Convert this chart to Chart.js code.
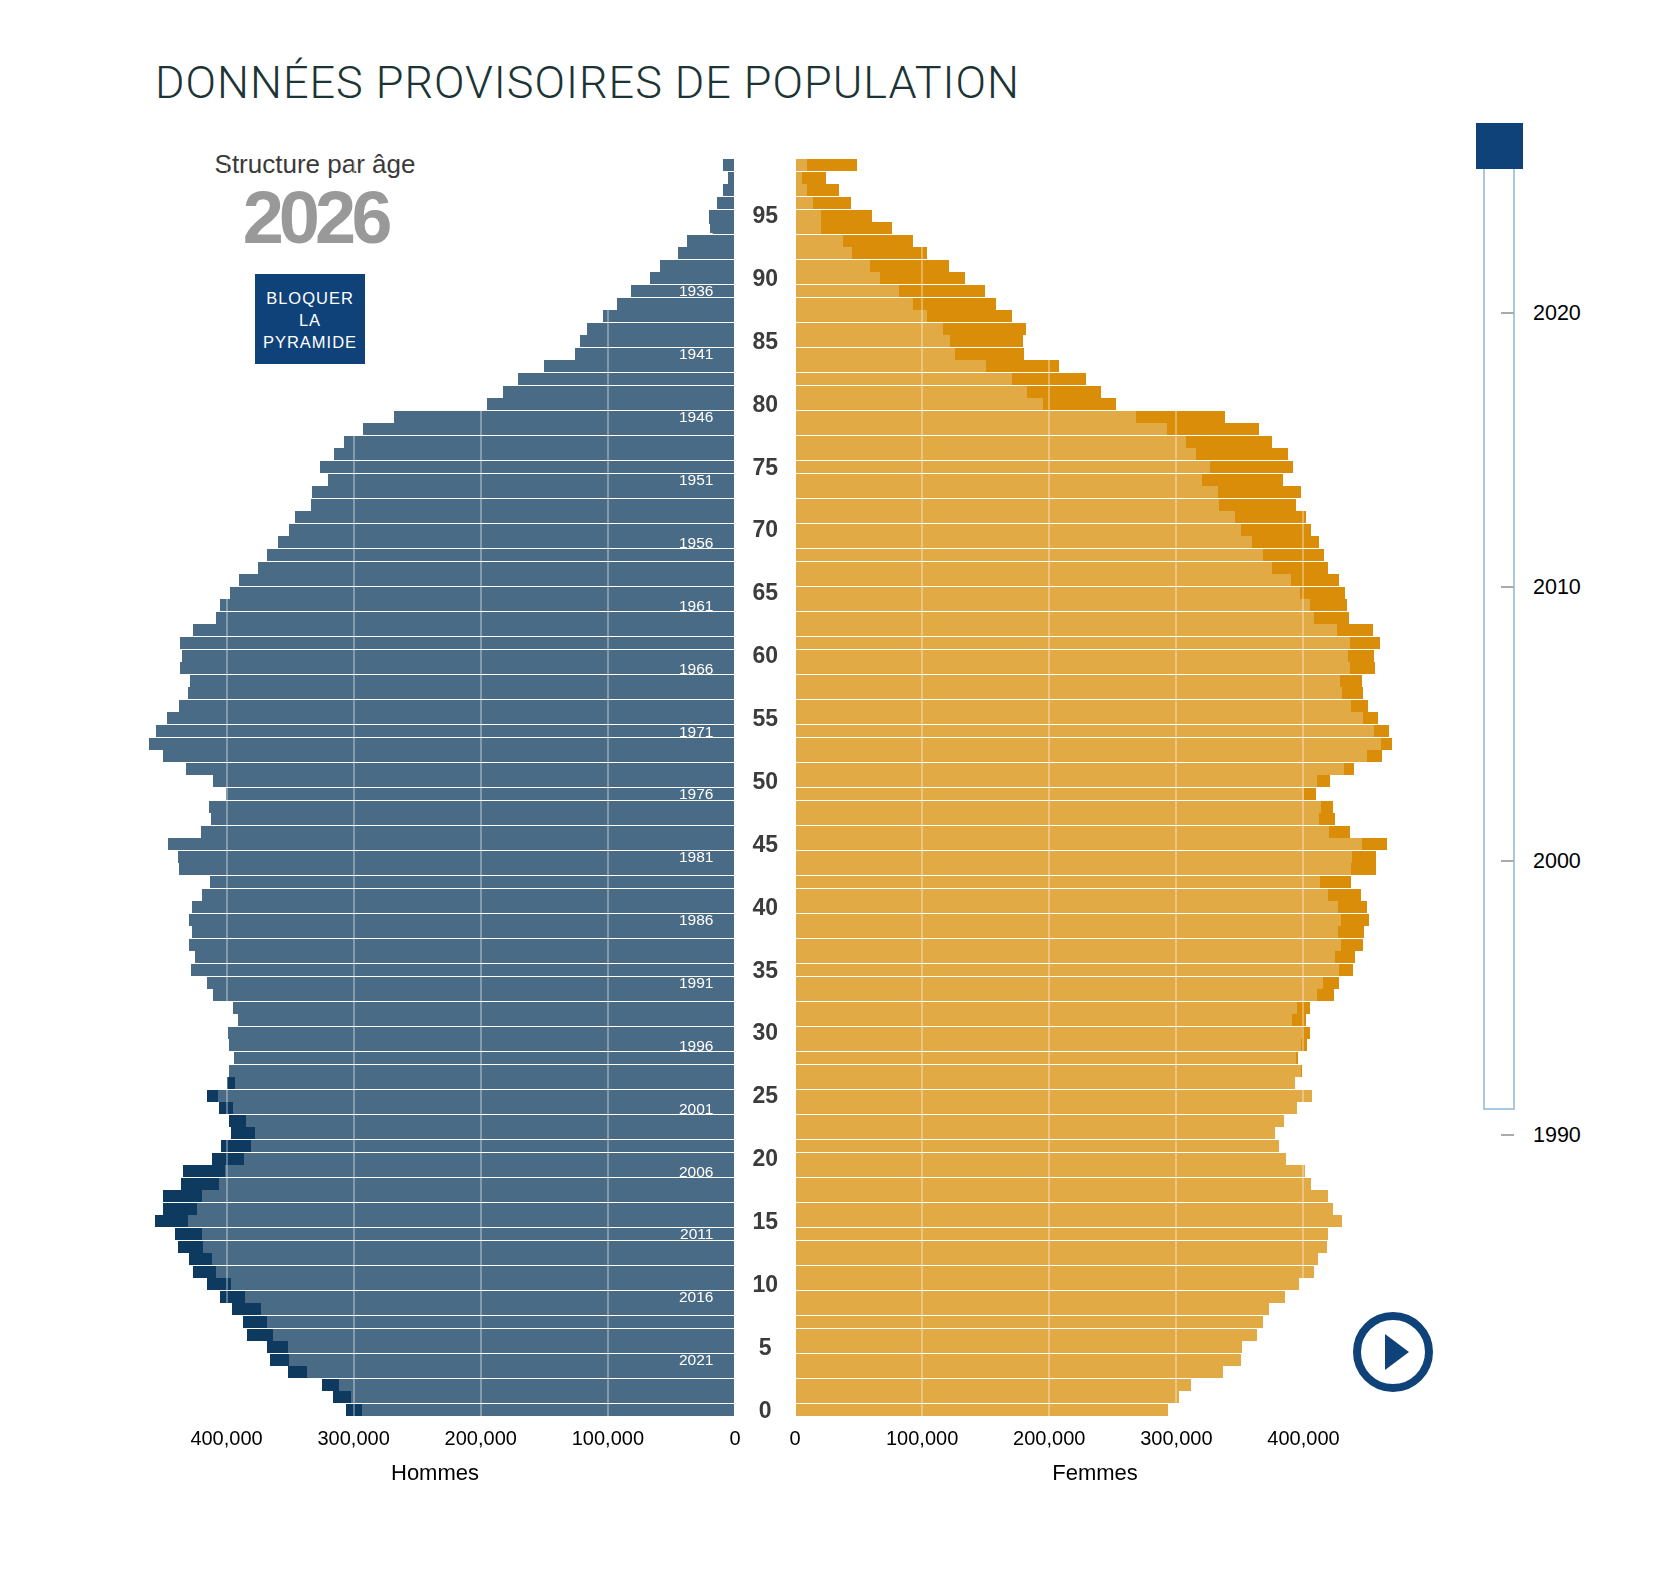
<!DOCTYPE html>
<html lang="fr">
<head>
<meta charset="utf-8">
<title>Données provisoires de population</title>
<script src="https://cdn.jsdelivr.net/npm/chart.js@4/dist/chart.umd.min.js"></script>
<style>
  html, body { margin: 0; background: #fff; }
  body { position: relative; width: 1654px; height: 1596px; overflow: hidden; font-family: "Liberation Sans", Arial, sans-serif; }
  canvas { position: absolute; top: 0; }
  #gauche { left: 0; }
  #droite { left: 735px; }
  .abs { position: absolute; white-space: nowrap; }
  #titre { left: 155px; top: 56px; margin: 0; font: 300 45px Roboto, sans-serif; letter-spacing: 1px; color: #1c3435; }
  #structure { left: 165px; width: 300px; top: 149px; text-align: center; font-size: 26px; color: #3a3a3a; }
  #annee { left: 165px; width: 300px; top: 176px; text-align: center; font-size: 74px; line-height: 84px; font-weight: bold; color: #999; letter-spacing: -5px; }
  #bloquer { left: 255px; top: 274px; width: 110px; height: 90px; background: #10427a; color: #fff; text-align: center; font-size: 16.5px; line-height: 22px; letter-spacing: 1px; padding-top: 13px; box-sizing: border-box; z-index: 2; }
  #curseur { left: 1476px; top: 123px; width: 47px; height: 46px; background: #10427a; }
  #piste { left: 1483px; top: 169px; width: 32px; height: 941px; border: 2px solid #a9c8e2; border-top: 0; box-sizing: border-box; }
  .graduation { left: 1501px; width: 13px; height: 2px; background: #aaa; }
  .an { left: 1533px; font-size: 21.5px; line-height: 24px; color: #000; }
</style>
</head>
<body>
<h1 id="titre" class="abs">DONNÉES PROVISOIRES DE POPULATION</h1>
<div id="structure" class="abs">Structure par âge</div>
<div id="annee" class="abs">2026</div>
<div id="bloquer" class="abs">BLOQUER<br>LA<br>PYRAMIDE</div>
<div id="piste" class="abs"></div>
<div id="curseur" class="abs"></div>
<svg class="abs" style="left:1353px;top:1312px" width="80" height="80">
  <circle cx="40" cy="40" r="36" fill="none" stroke="#10427a" stroke-width="8"/>
  <polygon points="32,22 56,40 32,58" fill="#10427a"/>
</svg>
<canvas id="gauche" width="760" height="1596"></canvas>
<canvas id="droite" width="700" height="1596"></canvas>

<script>
// effectifs par age, de 0 a 99 ans
const hommes = [
  305700, 316600, 324700, 351700, 365500, 368100, 383800, 387000, 395400, 404900,
  415100, 426100, 429400, 438100, 440300, 456000, 449800, 449800, 435600, 434100,
  411100, 404200, 396200, 398000, 405700, 415100, 399500, 398000, 394000, 398000,
  398700, 390700, 394700, 410400, 415100, 427900, 424600, 429400, 427200, 429400,
  427200, 419200, 413000, 437400, 438100, 445800, 419900, 412200, 413700, 400200,
  410400, 431900, 449800, 460700, 455300, 446500, 437400, 430100, 428600, 436300,
  434800, 436300, 426100, 408200, 404900, 397300, 390000, 375000, 368100, 359300,
  350600, 345800, 333400, 332500, 320000, 326200, 315400, 307600, 292600, 268100,
  195100, 182200, 170600, 150200, 125700, 121600, 116200, 103800, 92500, 81800,
  67200, 58900, 45200, 37400, 20300, 20300, 14100, 9100, 5400, 9100
];
const femmes = [
  293300, 301700, 311500, 336700, 350600, 351700, 363300, 368100, 372800, 385200,
  396200, 408200, 411100, 418400, 419200, 430100, 423200, 419500, 405800, 401200,
  386100, 380800, 377600, 384700, 394900, 406800, 393500, 398700, 395600, 402600,
  405000, 401900, 405000, 424000, 427900, 439100, 440500, 446900, 447600, 451400,
  450000, 445100, 437400, 457000, 457000, 465800, 436700, 424700, 423300, 410000,
  420900, 439800, 461600, 469700, 467200, 458800, 450700, 446900, 446200, 456400,
  455700, 460200, 454600, 436000, 434200, 432800, 427900, 419500, 416300, 412100,
  405800, 401900, 394200, 398300, 384200, 392100, 387900, 375500, 365100, 338500,
  252600, 241000, 229000, 207800, 180400, 179600, 181700, 170900, 158000, 149700,
  133900, 121100, 104000, 92800, 76200, 60500, 44300, 34700, 24400, 48900
];
const ages = hommes.map((_, i) => i);
const agesAffiches = [0, 5, 10, 15, 20, 25, 30, 35, 40, 45, 50, 55, 60, 65, 70, 75, 80, 85, 90, 95];
const generations = [2021, 2016, 2011, 2006, 2001, 1996, 1991, 1986, 1981, 1976, 1971, 1966, 1961, 1956, 1951, 1946, 1941, 1936, 1931];
const anneesCurseur = [2020, 2010, 2000, 1990];
const graduationsX = [0, 100000, 200000, 300000, 400000];

const commun = hommes.map((h, i) => Math.min(h, femmes[i]));

// frise du curseur
anneesCurseur.forEach(a => {
  const y = 313 + (2020 - a) * 27.4;
  const g = document.createElement('div');
  g.className = 'abs graduation';
  g.style.top = (y - 1) + 'px';
  document.body.appendChild(g);
  const t = document.createElement('div');
  t.className = 'abs an';
  t.style.top = (y - 12) + 'px';
  t.textContent = a;
  document.body.appendChild(t);
});

// cale les barres sur le pixel, comme dans la pyramide d'origine
const calage = {
  id: 'calage',
  afterDatasetsUpdate(chart) {
    chart.data.datasets.forEach((d, i) => {
      chart.getDatasetMeta(i).data.forEach(b => {
        b.y = Math.round(b.y - 6 + 0.3) + 6;
        b.x = Math.round(b.x);
      });
    });
  }
};

function axeX(sens) {
  return {
    type: 'linear',
    reverse: sens === 'Hommes',
    min: 0,
    max: 472000,
    afterBuildTicks: s => { s.ticks = graduationsX.map(v => ({ value: v })); },
    grid: { color: 'rgba(255,255,255,0.33)', lineWidth: 2, z: 1, drawTicks: false },
    border: { display: false },
    ticks: {
      maxRotation: 0,
      autoSkip: false,
      padding: 11,
      color: '#000',
      font: { family: 'Liberation Sans', size: 20 },
      callback: v => v.toLocaleString('en-US')
    },
    title: {
      display: true,
      text: sens,
      color: '#000',
      font: { family: 'Liberation Sans', size: 22 },
      padding: { top: 0, bottom: -1 }
    },
    afterFit: s => { s.height = 70; }
  };
}

// Pyramide hommes
new Chart(document.getElementById('gauche'), {
  type: 'bar',
  plugins: [calage],
  data: {
    labels: ages,
    datasets: [
      { label: 'Commun', data: commun, backgroundColor: '#4a6b85', order: 1, grouped: false, barThickness: 12, inflateAmount: 0 },
      { label: 'Hommes', data: hommes, backgroundColor: '#0d3a5e', order: 2, grouped: false, barThickness: 12, inflateAmount: 0 }
    ]
  },
  options: {
    indexAxis: 'y',
    responsive: false,
    animation: false,
    events: [],
    layout: { padding: { left: 135, right: 25, top: 158.7, bottom: 110 } },
    plugins: { legend: { display: false }, tooltip: { enabled: false } },
    scales: {
      x: axeX('Hommes'),
      y: {
        position: 'right',
        reverse: true,
        grid: { display: false, drawTicks: false },
        border: { display: false },
        afterFit: s => { s.width = 0; },
        ticks: {
          mirror: true,
          z: 2,
          padding: -21.6,
          labelOffset: 1.5,
          autoSkip: false,
          color: '#fff',
          font: { family: 'Liberation Sans', size: 15.5 },
          callback: (v, i) => generations.includes(2025 - i) ? String(2025 - i) : ''
        }
      }
    }
  }
});

// Pyramide femmes
new Chart(document.getElementById('droite'), {
  type: 'bar',
  plugins: [calage],
  data: {
    labels: ages,
    datasets: [
      { label: 'Commun', data: commun, backgroundColor: '#e2aa45', order: 1, grouped: false, barThickness: 12, inflateAmount: 0 },
      { label: 'Femmes', data: femmes, backgroundColor: '#da8d08', order: 2, grouped: false, barThickness: 12, inflateAmount: 0 }
    ]
  },
  options: {
    indexAxis: 'y',
    responsive: false,
    animation: false,
    events: [],
    layout: { padding: { left: 0, right: 40, top: 158.7, bottom: 110 } },
    plugins: { legend: { display: false }, tooltip: { enabled: false } },
    scales: {
      x: axeX('Femmes'),
      y: {
        position: 'left',
        reverse: true,
        grid: { display: false, drawTicks: false },
        border: { display: false },
        afterFit: s => { s.width = 60; },
        ticks: {
          crossAlign: 'center',
          padding: 17,
          labelOffset: 1.5,
          autoSkip: false,
          color: '#3c3c3c',
          font: { family: 'Liberation Sans', size: 23, weight: 'bold' },
          callback: (v, i) => agesAffiches.includes(i) ? String(i) : ''
        }
      }
    }
  }
});
</script>
</body>
</html>
